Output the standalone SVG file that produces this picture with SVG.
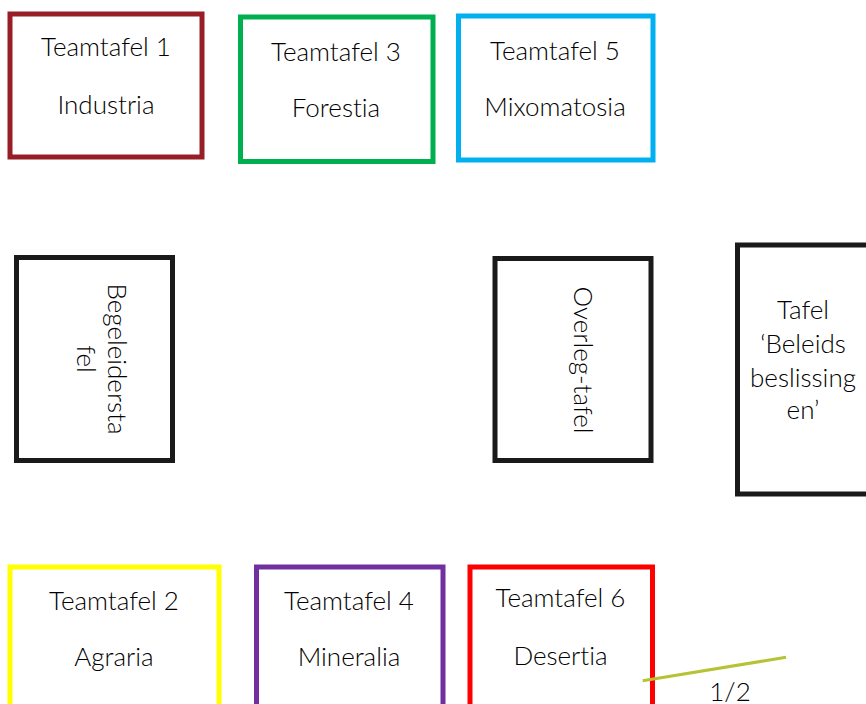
<svg xmlns="http://www.w3.org/2000/svg" width="866" height="704" viewBox="0 0 866 704">
<style>
  .box { fill: #ffffff; stroke-width: 5; }
  .t { font-family: Lato, "Open Sans", sans-serif; font-size: 26px; font-weight: 300; fill: #000000; text-anchor: middle; font-variant-ligatures: none; }
</style>
<rect width="866" height="704" fill="#ffffff"/>
<g id="teamtafel1">
  <rect class="box" x="10" y="14" width="192" height="143" stroke="#981E26"/>
  <text class="t" x="106" y="56">Teamtafel 1</text>
  <text class="t" x="106" y="114">Industria</text>
</g>
<g id="teamtafel3">
  <rect class="box" x="240.5" y="17" width="192.5" height="144.5" stroke="#00B050"/>
  <text class="t" x="336" y="60.5">Teamtafel 3</text>
  <text class="t" x="336" y="116.5">Forestia</text>
</g>
<g id="teamtafel5">
  <rect class="box" x="458.5" y="16" width="194.5" height="144" stroke="#00B0F0"/>
  <text class="t" x="555" y="59.5">Teamtafel 5</text>
  <text class="t" x="555" y="116">Mixomatosia</text>
</g>
<g id="begeleiderstafel">
  <rect class="box" x="16.5" y="257.5" width="156" height="203" stroke="#1a1a1a"/>
  <g transform="translate(108,359) rotate(90)">
    <text class="t" x="0" y="0">Begeleidersta</text>
    <text class="t" x="0" y="31.5">fel</text>
  </g>
</g>
<g id="overlegtafel">
  <rect class="box" x="495" y="258.5" width="156" height="202" stroke="#1a1a1a"/>
  <text class="t" transform="translate(573.5,360) rotate(90)" x="0" y="0">Overleg-tafel</text>
</g>
<g id="tafel-beleidsbeslissingen">
  <rect class="box" x="737.5" y="245" width="200" height="249" stroke="#1a1a1a"/>
  <text class="t" x="803" y="319">Tafel</text>
  <text class="t" x="803" y="353">‘Beleids</text>
  <text class="t" x="803" y="387">beslissing</text>
  <text class="t" x="803" y="419">en’</text>
</g>
<g id="teamtafel2">
  <rect class="box" x="10" y="567" width="209" height="200" stroke="#FFFF00"/>
  <text class="t" x="114" y="610">Teamtafel 2</text>
  <text class="t" x="114" y="666">Agraria</text>
</g>
<g id="teamtafel4">
  <rect class="box" x="256.5" y="567" width="186.5" height="200" stroke="#7030A0"/>
  <text class="t" x="349" y="610">Teamtafel 4</text>
  <text class="t" x="349" y="666">Mineralia</text>
</g>
<g id="teamtafel6">
  <rect class="box" x="470" y="567" width="182.5" height="200" stroke="#FF0000"/>
  <text class="t" x="560.5" y="607">Teamtafel 6</text>
  <text class="t" x="560.5" y="665">Desertia</text>
</g>
<g id="connectors">
  <line x1="642.7" y1="680.7" x2="786" y2="657.3" stroke="#B5C334" stroke-width="3"/>
</g>
<text class="t" x="730" y="701">1/2</text>
</svg>
